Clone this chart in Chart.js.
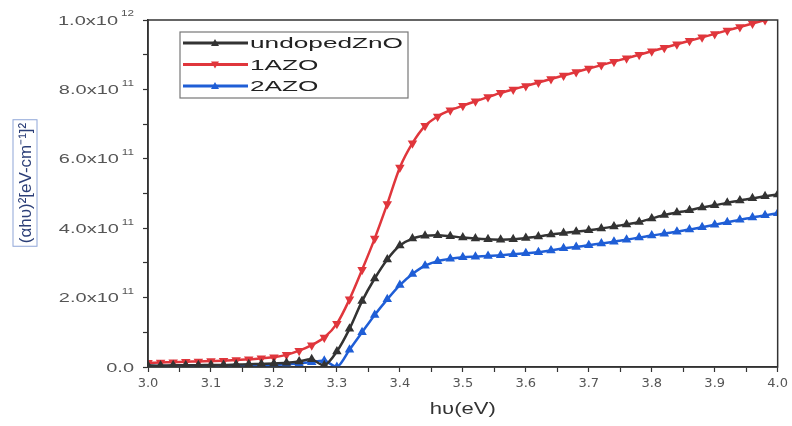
<!DOCTYPE html>
<html>
<head>
<meta charset="utf-8">
<script src="https://cdn.jsdelivr.net/npm/chart.js@4.4.1/dist/chart.umd.min.js"></script>
<style>
  html, body { margin: 0; padding: 0; background: #fff; }
  #wrap { width: 792px; height: 426px; }
</style>
</head>
<body>
<div id="wrap"><canvas id="tauc"></canvas></div>
<script>
// photon energy (eV), step 0.02
const energy = [
  3.00, 3.02, 3.04, 3.06, 3.08, 3.10, 3.12, 3.14, 3.16, 3.18,
  3.20, 3.22, 3.24, 3.26, 3.28, 3.30, 3.32, 3.34, 3.36, 3.38,
  3.40, 3.42, 3.44, 3.46, 3.48, 3.50, 3.52, 3.54, 3.56, 3.58,
  3.60, 3.62, 3.64, 3.66, 3.68, 3.70, 3.72, 3.74, 3.76, 3.78,
  3.80, 3.82, 3.84, 3.86, 3.88, 3.90, 3.92, 3.94, 3.96, 3.98, 4.00
];

// (alpha h nu)^2 in units of 1e11
const undopedZnO = [
  0.04, 0.04, 0.05, 0.05, 0.05, 0.06, 0.06, 0.07, 0.08, 0.09,
  0.10, 0.12, 0.16, 0.22, 0.05, 0.45, 1.10, 1.90, 2.55, 3.10,
  3.50, 3.70, 3.78, 3.80, 3.77, 3.73, 3.70, 3.68, 3.67, 3.68,
  3.72, 3.76, 3.82, 3.86, 3.90, 3.94, 3.99, 4.05, 4.11, 4.18,
  4.28, 4.38, 4.45, 4.52, 4.60, 4.66, 4.73, 4.80, 4.86, 4.92, 4.97
];
const azo1 = [
  0.12, 0.13, 0.14, 0.15, 0.16, 0.17, 0.18, 0.20, 0.22, 0.25,
  0.28, 0.35, 0.47, 0.63, 0.85, 1.25, 1.95, 2.80, 3.70, 4.70,
  5.75, 6.45, 6.95, 7.22, 7.40, 7.53, 7.66, 7.78, 7.90, 8.00,
  8.10, 8.20, 8.30, 8.40, 8.50, 8.60, 8.70, 8.80, 8.90, 9.00,
  9.10, 9.20, 9.30, 9.40, 9.50, 9.60, 9.70, 9.80, 9.90, 10.00, null
];
const azo2 = [
  0.03, 0.03, 0.03, 0.03, 0.04, 0.04, 0.04, 0.05, 0.05, 0.05,
  0.06, 0.08, 0.10, 0.14, 0.18, 0.00, 0.50, 1.00, 1.50, 1.95,
  2.36, 2.68, 2.92, 3.05, 3.12, 3.16, 3.18, 3.20, 3.22, 3.25,
  3.28, 3.31, 3.36, 3.42, 3.46, 3.51, 3.56, 3.61, 3.67, 3.73,
  3.79, 3.84, 3.90, 3.96, 4.03, 4.10, 4.17, 4.24, 4.31, 4.37, 4.43
];

// y tick labels: mantissa part and power of ten
const yTickBase = ["0.0", "2.0x10", "4.0x10", "6.0x10", "8.0x10", "1.0x10"];
const yTickExp = ["", "11", "11", "11", "11", "12"];
const xTickLabels = ["3.0", "3.1", "3.2", "3.3", "3.4", "3.5", "3.6", "3.7", "3.8", "3.9", "4.0"];

const toPoints = (ys) => energy.map((x, i) => ({ x: x, y: ys[i] }));

// the original picture is stretched sideways, so text is drawn squeezed
// or widened to a given horizontal factor
function wideText(ctx, text, x, y, sx, align) {
  const w = ctx.measureText(text).width * sx;
  const left = align === "right" ? x - w : align === "center" ? x - w / 2 : x;
  ctx.save();
  ctx.translate(left, y);
  ctx.scale(sx, 1);
  ctx.textAlign = "left";
  ctx.fillText(text, 0, 0);
  ctx.restore();
  return w;
}

const extras = {
  id: "extras",
  afterDraw(chart) {
    const { ctx, chartArea: a } = chart;
    const fam = "'Liberation Sans', Arial, sans-serif";
    ctx.save();
    ctx.strokeStyle = "#333";
    ctx.lineWidth = 1.5;
    ctx.strokeRect(a.left, a.top, a.right - a.left, a.bottom - a.top);

    // y tick labels
    const ys = chart.scales.y;
    ctx.fillStyle = "#555";
    ctx.textBaseline = "middle";
    ctx.font = "13px " + fam;
    const baseSx = 60 / ctx.measureText("1.0x10").width;
    ctx.font = "9px " + fam;
    const expSx = 13 / ctx.measureText("12").width;
    ys.ticks.forEach((t) => {
      const v = Math.round(t.value);
      if (v % 2 !== 0) return;
      const k = v / 2;
      const py = ys.getPixelForValue(t.value);
      let right = 134;
      if (yTickExp[k]) {
        ctx.font = "9px " + fam;
        right -= wideText(ctx, yTickExp[k], right, py - 6, expSx, "right") + 3;
      }
      ctx.font = "13px " + fam;
      wideText(ctx, yTickBase[k], right, py + 1, baseSx, "right");
    });

    // x title
    ctx.fillStyle = "#333";
    ctx.font = "16px " + fam;
    const tx = 66 / ctx.measureText("hυ(eV)").width;
    wideText(ctx, "hυ(eV)", (a.left + a.right) / 2, 410, tx, "center");

    // y title in a box
    ctx.save();
    ctx.translate(25, 183);
    ctx.rotate(-Math.PI / 2);
    ctx.font = "17px " + fam;
    ctx.fillStyle = "#2c3f78";
    ctx.textBaseline = "middle";
    const t = "(αhυ)²[eV-cm⁻¹]²";
    const w = wideText(ctx, t, 0, 1, 1.0, "center");
    ctx.strokeStyle = "#8fa6d8";
    ctx.lineWidth = 1;
    ctx.strokeRect(-w / 2 - 3, -12, w + 6, 24);
    ctx.restore();

    // legend
    ctx.strokeStyle = "#777";
    ctx.lineWidth = 1.2;
    ctx.strokeRect(180, 32, 228, 66);
    ctx.font = "15px " + fam;
    ctx.textBaseline = "middle";
    const lx = 153 / ctx.measureText(chart.data.datasets[0].label).width;
    chart.data.datasets.forEach((ds, i) => {
      const y = 43 + i * 21.5;
      ctx.strokeStyle = ds.borderColor;
      ctx.lineWidth = 3;
      ctx.beginPath();
      ctx.moveTo(183, y);
      ctx.lineTo(248, y);
      ctx.stroke();
      ctx.fillStyle = ds.borderColor;
      ctx.beginPath();
      const s = ds.pointRotation === 180 ? -1 : 1;
      ctx.moveTo(215, y - 4 * s);
      ctx.lineTo(219, y + 3 * s);
      ctx.lineTo(211, y + 3 * s);
      ctx.closePath();
      ctx.fill();
      ctx.fillStyle = "#222";
      wideText(ctx, ds.label, 250, y + 1, lx, "left");
    });
    ctx.restore();
  }
};

const series = (label, ys, color, rot) => ({
  label: label,
  data: toPoints(ys),
  borderColor: color,
  backgroundColor: color,
  borderWidth: 2.5,
  pointStyle: "triangle",
  pointRotation: rot,
  pointRadius: 3,
  pointHoverRadius: 3,
  tension: 0.3
});

new Chart(document.getElementById("tauc"), {
  type: "line",
  data: {
    datasets: [
      series("undopedZnO", undopedZnO, "#333333", 0),
      series("1AZO", azo1, "#e0363c", 180),
      series("2AZO", azo2, "#1f5ed6", 0)
    ]
  },
  options: {
    responsive: true,
    maintainAspectRatio: false,
    animation: false,
    layout: { padding: { top: 20, right: 14, left: 0, bottom: 0 } },
    plugins: { legend: { display: false }, tooltip: { enabled: false } },
    scales: {
      x: {
        type: "linear",
        min: 3.0,
        max: 4.0,
        afterFit: (s) => { s.height = 59; },
        ticks: {
          stepSize: 0.05,
          autoSkip: false,
          maxRotation: 0,
          padding: 4,
          color: "#555",
          font: { size: 13, family: "'DejaVu Sans', sans-serif" },
          callback: (v) => {
            const k = Math.round((v - 3.0) * 20);
            return k % 2 === 0 ? xTickLabels[k / 2] : "";
          }
        },
        grid: { drawOnChartArea: false, tickLength: 5, color: "#333", tickWidth: 1.2 },
        border: { color: "#333", width: 1.5 }
      },
      y: {
        min: 0,
        max: 10,
        afterFit: (s) => { s.width = 148; },
        ticks: {
          stepSize: 1,
          autoSkip: false,
          color: "rgba(0,0,0,0)",
          callback: (v) => (Math.round(v) % 2 === 0 ? yTickBase[Math.round(v) / 2] : "")
        },
        grid: { drawOnChartArea: false, tickLength: 5, color: "#333", tickWidth: 1.2 },
        border: { color: "#333", width: 1.5 }
      }
    }
  },
  plugins: [extras]
});
</script>
</body>
</html>
